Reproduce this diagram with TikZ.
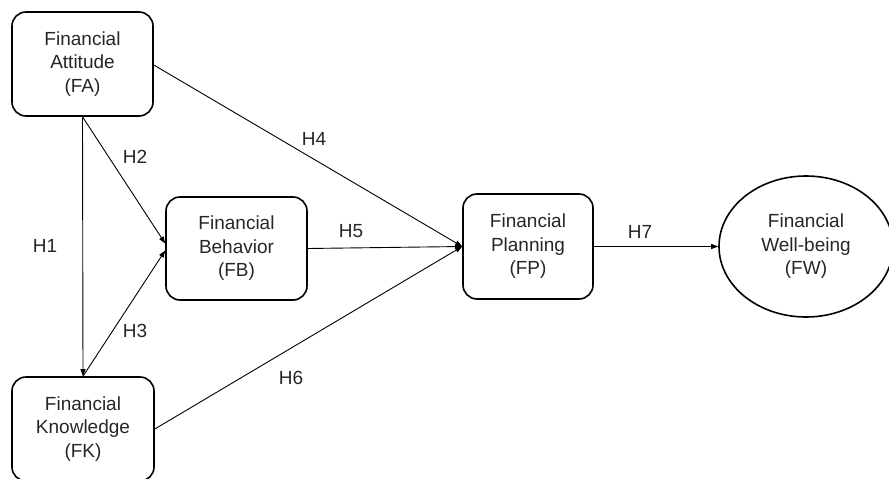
\documentclass[tikz,border=0pt]{standalone}
\usepackage{fontspec}
\setmainfont{Liberation Sans}
\usetikzlibrary{arrows.meta,shapes.geometric}
\begin{document}
\begin{tikzpicture}[x=1pt,y=-1pt,
  txt/.style={font=\fontsize{19}{23.5}\selectfont, text=black!85},
  box/.style={txt, draw, line width=1.6pt, rounded corners=14pt, align=center, inner sep=0pt},
  ell/.style={txt, draw, ellipse, line width=1.6pt, align=center, inner sep=0pt},
  conn/.style={line width=0.9pt, -{Triangle[length=7pt,width=5pt]}},
  lab/.style={txt, inner sep=0pt}]
\useasboundingbox (0,0) rectangle (889,479);
\node[box, minimum width=141pt, minimum height=104pt] (FA) at (82.5,64) {Financial\\Attitude\\(FA)};
\node[box, minimum width=141pt, minimum height=103pt] (FB) at (236.5,248.5) {Financial\\Behavior\\(FB)};
\node[box, minimum width=142pt, minimum height=104pt] (FK) at (83,429) {Financial\\Knowledge\\(FK)};
\node[box, minimum width=130pt, minimum height=105pt] (FP) at (528,246.5) {Financial\\Planning\\(FP)};
\node[ell, minimum width=174pt, minimum height=141pt] (FW) at (806,246.5) {Financial\\Well-being\\(FW)};

\draw[conn] (FA.south) -- (FK.north);
\draw[conn] (FA.south) -- ([yshift=5pt]FB.west);
\draw[conn] (FK.north) -- ([yshift=-2pt]FB.west);
\draw[conn] ([yshift=-1pt]FA.east) -- (FP.west);
\draw[conn] (FB.east) -- (FP.west);
\draw[conn] (FK.east) -- (FP.west);
\draw[conn] (FP.east) -- (FW.west);

\node[lab] (h1) at (45,246) {H1};
\node[lab] (h2) at (135,157) {H2};
\node[lab] (h3) at (135,331) {H3};
\node[lab] (h4) at (314,139) {H4};
\node[lab] (h5) at (351,231) {H5};
\node[lab] (h6) at (291,378) {H6};
\node[lab] (h7) at (640,232) {H7};
\end{tikzpicture}
\end{document}
